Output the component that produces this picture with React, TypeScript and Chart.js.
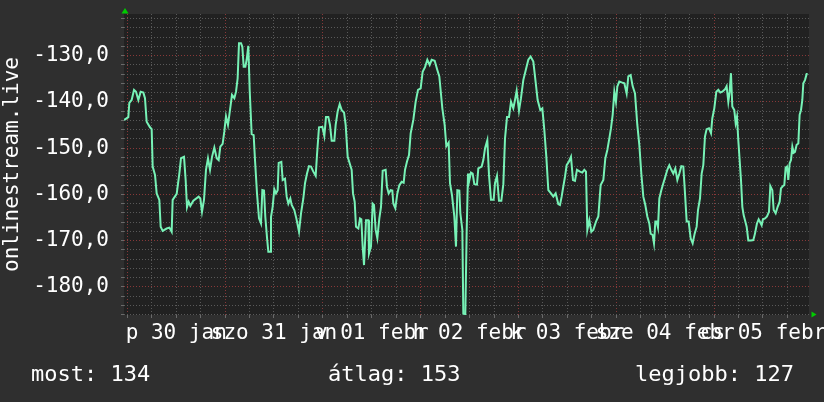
import React, { useEffect, useRef } from 'react';
import { Chart, registerables } from 'chart.js';

Chart.register(...registerables);

// time of each vertex, hours since Fri 30 Jan 00:00
const hours = [
  -0.8, -0.56, 0.25, 0.5, 1.07, 1.65, 2.14, 2.71, 3.28, 3.94, 4.34, 4.75, 5.57, 5.98, 6.23, 6.8, 7.21, 7.86, 8.19, 8.68,
  9.66, 10.32, 10.89, 11.13, 12.12, 12.77, 13.18, 13.92, 14.32, 14.65, 15.06, 15.47, 16.21, 17.51, 17.92, 18.33, 18.82,
  19.31, 19.8, 20.3, 20.79, 21.36, 21.93, 22.42, 22.83, 23.4, 23.81, 24.22, 24.71, 25.2, 25.69, 26.27, 26.68, 27.08,
  27.41, 27.9, 28.23, 28.56, 28.97, 29.29, 29.7, 30.03, 30.52, 31.01, 31.34, 31.83, 32.32, 32.81, 33.14, 33.55, 33.87,
  34.28, 34.61, 35.02, 35.26, 35.67, 36.08, 36.49, 36.9, 37.15, 37.8, 38.13, 38.7, 39.11, 39.52, 40.01, 40.34, 40.99,
  41.48, 42.14, 42.63, 43.2, 43.61, 44.1, 44.59, 45.08, 45.65, 46.23, 46.55, 47.04, 47.86, 48.35, 48.76, 49.33, 49.74,
  50.15, 50.81, 51.13, 51.62, 52.12, 52.61, 53.18, 53.59, 54.08,
  55.06, 55.39, 55.8, 56.12, 56.7, 57.1, 57.43, 57.76, 58.09, 58.33, 58.58, 59.15, 59.31, 59.8, 60.21, 60.54, 60.95,
  61.36, 61.85, 62.26, 62.67, 63.4, 63.73, 64.14, 64.63, 65.04, 65.28, 65.77, 66.27, 66.76, 67.33, 67.82, 68.15, 68.64,
  69.13, 69.54, 70.19, 70.76, 71.34, 71.99, 72.48, 73.06, 73.63, 74.2, 74.69, 75.43, 76.08, 76.57, 77.31, 77.88, 78.29,
  78.86, 79.19, 79.68, 80.25, 80.66, 80.99, 81.48, 81.73, 82.22, 82.46, 82.95, 83.28, 83.61,
  83.85, 84.34, 84.75, 85.16, 85.81, 86.14, 86.96, 87.37, 87.78, 88.35, 88.76, 89.25, 89.9, 90.23, 90.72, 91.21, 91.79,
  92.28, 92.69, 93.18, 93.67, 94.16, 94.73, 95.14, 95.55, 96.12, 96.61, 97.18, 97.76, 98.41, 98.98, 99.64, 100.05,
  100.7, 101.36, 101.85, 102.34, 102.83, 103.32, 103.97, 104.55, 105.12, 105.77, 106.18, 106.59, 106.92, 107.41,
  107.82, 108.39, 108.88, 109.37, 109.86, 110.35, 111.09, 111.66, 112.15,
  112.56, 112.89, 113.38, 113.87, 114.36, 115.02, 115.59, 116.16, 116.82, 117.31, 117.8, 118.29, 118.7, 119.11, 119.52,
  119.92, 120.25, 120.74, 121.31, 121.97, 122.54, 122.95, 123.52, 124.01, 124.59, 125.16, 125.65, 126.14, 126.63,
  127.12, 127.61, 128.1, 128.43, 128.92, 129.25, 129.58, 129.9, 130.23, 130.56, 131.05, 131.54, 132.03, 132.52, 133.01,
  133.5, 133.99, 134.48, 134.98, 135.47, 135.96, 136.45, 136.86, 137.27, 137.76, 138.25, 138.74, 139.23, 139.72, 140.05,
  140.54,
  140.95, 141.35, 141.76, 142.17, 142.75, 143.24, 143.56, 144.05, 144.55, 145.04, 145.53, 146.02, 146.67, 147.08, 147.49,
  147.82, 148.14, 148.47, 148.96, 149.29, 149.62, 149.94, 150.27, 150.6, 150.93, 151.25, 151.58, 151.99, 152.4, 153.05,
  153.63, 154.03, 154.52, 154.93, 155.34, 155.67, 155.99, 156.49, 156.98, 157.47, 157.8, 158.29, 158.62, 159.11, 159.6,
  160.09, 160.41, 160.9, 161.23, 161.56, 161.89, 162.21, 162.54, 162.87, 163.2, 163.52, 163.85, 164.26, 164.67, 164.99,
  165.32, 165.65, 165.9, 166.3, 166.71, 166.96,
];

const signal = [
  -143.8, -143.8, -143.3, -140.2, -139.6, -137.4, -137.8, -139.6, -137.8, -138.0, -139.2, -144.3, -145.5, -145.9, -154.0,
  -155.8, -159.8, -161.2, -167.0, -167.9, -167.4, -167.2, -168.1, -161.2, -159.9, -155.5, -152.2, -151.9, -156.9, -162.8,
  -161.6, -162.5, -161.4, -160.5, -160.9, -163.8, -161.2, -154.7, -152.2, -154.7, -151.9, -149.9, -152.2, -152.6, -149.7,
  -149.1, -146.4, -143.1, -145.0, -141.8, -138.5, -139.2, -137.8, -134.9,
  -127.3, -127.3, -128.1, -132.4, -132.4, -130.9, -127.9, -137.4, -147.0, -147.2, -152.6, -159.8, -165.2, -166.3, -159.1,
  -159.2, -164.9, -169.3, -172.4, -172.4, -164.9, -162.7, -158.9, -159.8, -159.1, -153.2, -153.0, -156.9, -156.6, -160.5,
  -162.0, -160.9, -162.3, -163.4, -165.2, -168.1, -164.1, -160.9, -157.6, -155.5, -153.9, -154.0, -155.1, -156.0, -151.5,
  -145.5, -145.4, -147.4, -143.3, -143.3, -145.0, -148.4, -148.4, -145.0, -142.1, -140.5, -141.8, -142.3, -145.0, -151.9,
  -154.7, -159.8, -161.6, -167.0, -167.4, -165.2, -165.4, -171.3, -175.3, -175.3, -165.6, -165.6, -172.8, -171.3, -162.0,
  -162.3, -167.7, -169.5, -165.2, -162.7, -154.9, -154.7, -158.4, -159.8, -159.1, -159.2, -162.0, -163.0, -159.8, -158.0,
  -157.3, -157.5, -154.7, -152.9, -151.5, -146.8, -143.9, -140.0, -137.4, -137.1, -133.5, -132.5, -130.9, -132.0, -130.9,
  -131.1, -133.1, -134.5, -141.4, -145.0, -149.6, -148.8, -157.6, -160.2, -164.8, -171.3, -159.1, -159.2, -164.1, -167.7,
  -185.8, -185.9, -168.1, -155.5,
  -157.3, -155.3, -155.5, -157.8, -157.9, -154.4, -154.0, -152.6, -150.1, -148.3, -155.8, -161.2, -161.2, -157.6, -156.0,
  -161.4, -161.4, -157.8, -147.9, -143.3, -143.3, -140.0, -141.4, -139.6, -137.6, -141.9, -139.2, -135.3, -133.2, -130.9,
  -130.2, -131.3, -134.5, -139.6, -141.8, -141.4, -146.1, -151.9, -159.1, -159.8, -160.5, -159.8, -162.1, -162.3, -160.5,
  -158.7, -156.2, -153.7, -152.9, -151.9, -156.9, -157.1, -154.7, -155.1, -155.3, -154.7,
  -155.1, -167.7, -165.6, -168.1, -167.7, -165.9, -164.8, -158.0, -156.9, -152.2, -150.4, -147.9, -145.7, -142.8, -137.8,
  -140.0, -136.7, -135.6, -135.8, -136.0, -138.2, -134.5, -134.2, -136.6, -138.2, -145.0, -149.3, -155.5, -160.5, -162.3,
  -164.8, -166.3, -168.5, -168.8, -170.6, -165.9, -165.9, -167.2, -160.9, -159.1, -157.6, -156.2, -154.7, -153.7, -154.7,
  -155.5, -154.4, -156.9, -155.5, -153.9, -154.0, -159.8, -165.9, -165.9, -169.5, -170.6, -168.5, -167.0, -163.4, -160.9,
  -155.5, -153.7, -147.5, -145.9, -145.7, -146.8, -143.6, -141.4, -137.8, -137.4, -138.0, -137.8, -137.3, -136.6, -140.0,
  -137.8, -133.8, -141.0, -141.8, -144.6, -143.2, -148.3, -152.6, -156.9, -162.7, -164.5, -165.6, -167.0, -170.0, -170.0,
  -169.9, -168.5, -166.3, -165.4, -166.1, -166.7, -165.4, -165.2, -164.8, -163.8, -158.2, -159.1, -163.4, -164.1, -162.7,
  -161.6, -158.7, -158.2, -158.0, -154.2, -154.0, -156.9, -153.3, -152.6, -149.7, -151.0, -150.8, -149.3, -149.0, -142.8,
  -141.8, -139.6, -136.0, -135.3, -134.0, -134.0,
];

const xTickHours = [0, 6, 12, 18, 24, 30, 36, 42, 48, 54, 60, 66, 72, 78, 84, 90, 96, 102, 108, 114, 120, 126, 132, 138, 144, 150, 156, 162];
const dayLabels = ['p 30 jan', 'szo 31 jan', 'v 01 febr', 'h 02 febr', 'k 03 febr', 'sze 04 febr', 'cs 05 febr'];
const yTickValues = [
  -186, -184, -182, -180, -178, -176, -174, -172, -170, -168, -166, -164, -162, -160, -158, -156, -154, -152, -150,
  -148, -146, -144, -142, -140, -138, -136, -134, -132, -130, -128, -126, -124, -122,
];
const xRange = [-0.81, 167.29];
const yRange = [-186.1, -121.0];
const axisTitle = 'onlinestream.live';
const legendTexts = ['most: 134', 'átlag: 153', 'legjobb: 127'];

const FONT = '"DejaVu Sans Mono", "Liberation Mono", monospace';
const MAJOR = '#873838';
const MINOR = '#595959';

const decor = {
  id: 'decor',
  beforeDraw(chart: any) {
    const { ctx, chartArea: a, width, height } = chart;
    ctx.save();
    ctx.fillStyle = '#2f2f2f';
    ctx.fillRect(0, 0, width, height);
    ctx.fillStyle = '#212121';
    ctx.fillRect(a.left, a.top, a.right - a.left, a.bottom - a.top);
    ctx.restore();
  },
  afterDraw(chart: any) {
    const { ctx, chartArea: a } = chart;
    ctx.save();
    ctx.fillStyle = '#00cc00';
    ctx.beginPath();
    ctx.moveTo(a.left + 1, a.top - 6);
    ctx.lineTo(a.left - 2.5, a.top - 0.5);
    ctx.lineTo(a.left + 4.5, a.top - 0.5);
    ctx.closePath();
    ctx.fill();
    ctx.beginPath();
    ctx.moveTo(a.right + 7.5, a.bottom - 0.5);
    ctx.lineTo(a.right + 2.5, a.bottom - 3.5);
    ctx.lineTo(a.right + 2.5, a.bottom + 2.5);
    ctx.closePath();
    ctx.fill();
    ctx.fillStyle = '#ffffff';
    ctx.font = `22px ${FONT}`;
    ctx.textBaseline = 'alphabetic';
    ctx.textAlign = 'left';
    const xs = [31, 328, 635];
    legendTexts.forEach((t, i) => ctx.fillText(t, xs[i], 381));
    ctx.restore();
  },
};

export default function App() {
  const ref = useRef<HTMLCanvasElement>(null);
  useEffect(() => {
    const chart = new Chart(ref.current as HTMLCanvasElement, {
      type: 'line',
      data: {
        datasets: [
          {
            data: hours.map((h, i) => ({ x: h, y: signal[i] })),
            borderColor: '#77f2b6',
            borderWidth: 2,
            pointRadius: 0,
            fill: false,
            tension: 0,
          },
        ],
      },
      options: {
        animation: false,
        responsive: false,
        events: [],
        layout: { padding: { top: 14, right: 15, bottom: 0, left: 0 } },
        plugins: { legend: { display: false }, tooltip: { enabled: false } },
        scales: {
          x: {
            type: 'linear',
            min: xRange[0],
            max: xRange[1],
            afterBuildTicks: (s: any) => {
              s.ticks = xTickHours.map((v) => ({ value: v }));
            },
            afterFit: (s: any) => {
              s.height = 87;
              s.paddingLeft = 0;
              s.paddingRight = 0;
              s.paddingTop = 0;
              s.paddingBottom = 0;
            },
            grid: {
              color: (c: any) => (c.tick && c.tick.value % 24 === 0 ? MAJOR : MINOR),
              lineWidth: 1,
              drawTicks: true,
              tickLength: 3,
              tickColor: '#6a6a6a',
              tickBorderDash: [],
            },
            border: { display: false, dash: [1, 2] },
            ticks: {
              autoSkip: false,
              maxRotation: 0,
              minRotation: 0,
              padding: 3,
              color: '#ffffff',
              font: { family: FONT, size: 21 },
              callback: (v: any) => {
                const n = Number(v);
                return n % 24 === 12 ? dayLabels[(n - 12) / 24] : '';
              },
            },
          },
          y: {
            type: 'linear',
            min: yRange[0],
            max: yRange[1],
            afterBuildTicks: (s: any) => {
              s.ticks = yTickValues.map((v) => ({ value: v }));
            },
            afterFit: (s: any) => {
              s.width = 124;
              s.paddingTop = 0;
              s.paddingBottom = 0;
              s.paddingLeft = 0;
              s.paddingRight = 0;
            },
            grid: {
              color: (c: any) => (c.tick && c.tick.value % 10 === 0 ? MAJOR : MINOR),
              lineWidth: 1,
              drawTicks: true,
              tickLength: 3,
              tickColor: '#6a6a6a',
              tickBorderDash: [],
            },
            border: { display: false, dash: [1, 2] },
            ticks: {
              autoSkip: false,
              padding: 12,
              color: '#ffffff',
              font: { family: FONT, size: 21 },
              callback: (v: any) => {
                const n = Number(v);
                return n % 10 === 0 ? n.toFixed(1).replace('.', ',') : '';
              },
            },
            title: {
              display: true,
              text: axisTitle,
              color: '#ffffff',
              font: { family: FONT, size: 21 },
              padding: { top: 0, bottom: 0 },
            },
          },
        },
      },
      plugins: [decor],
    } as any);
    return () => chart.destroy();
  }, []);
  return (
    <div style={{ position: 'absolute', left: 0, top: 0, width: 824, height: 402, background: '#2f2f2f' }}>
      <canvas ref={ref} width={824} height={402} style={{ display: 'block', width: 824, height: 402 }} />
    </div>
  );
}
